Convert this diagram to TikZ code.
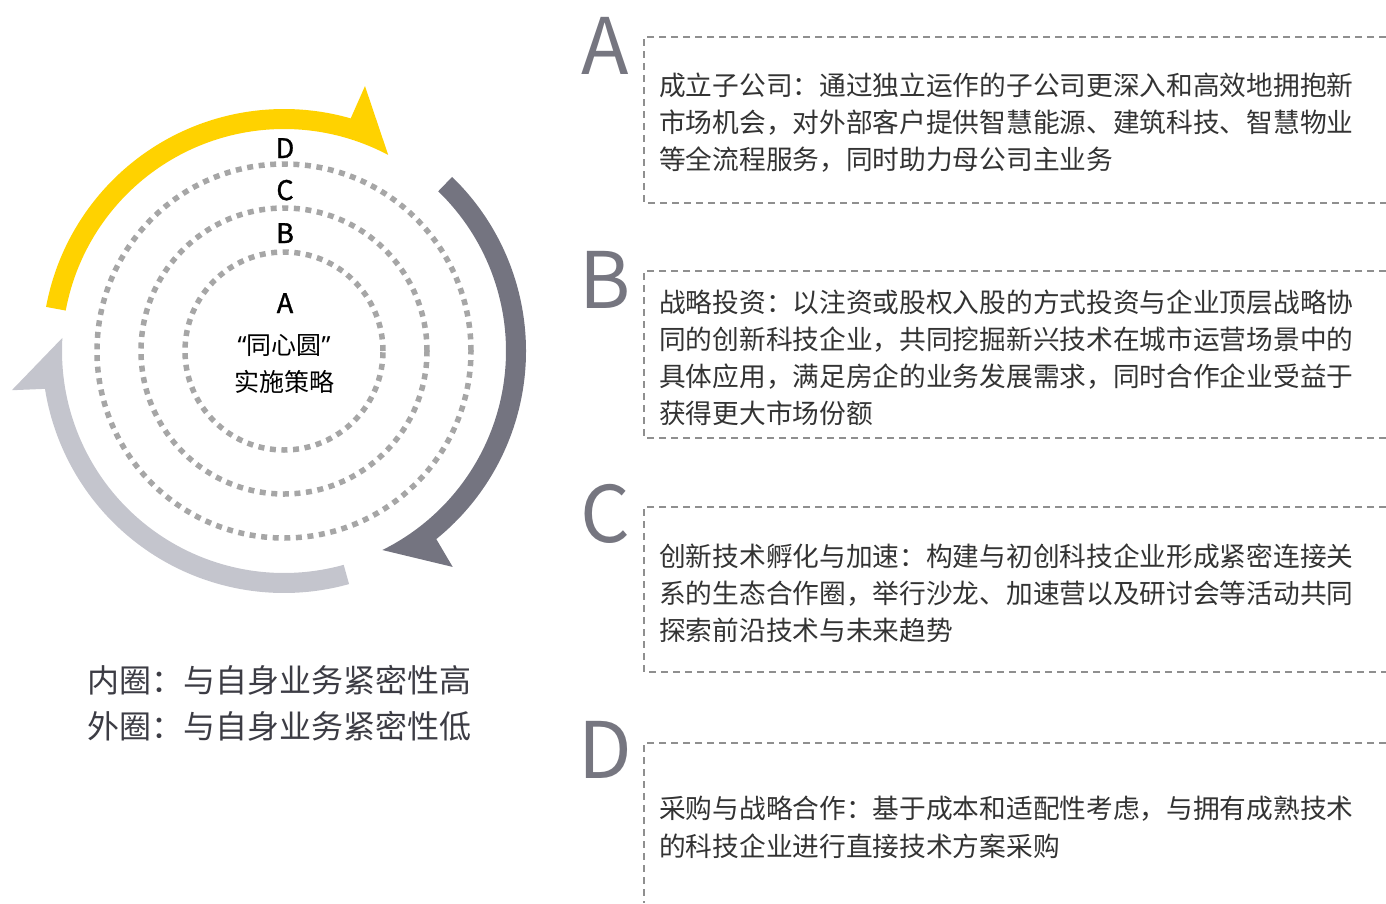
\documentclass[tikz,border=0pt]{standalone}
\usepackage{fontspec}
\setmainfont{Noto Sans CJK SC}
\newfontfamily\qfont{Noto Sans}
\newfontfamily\medfont[FakeBold=1.2]{Noto Sans CJK SC}
\usetikzlibrary{calc}
\definecolor{ylw}{HTML}{FFD200}
\definecolor{dgray}{HTML}{747480}
\definecolor{lgray}{HTML}{C4C5CD}
\definecolor{dotgray}{HTML}{A6A6A6}
\definecolor{boxgray}{HTML}{8F8F8F}
\definecolor{txt}{HTML}{333333}
\definecolor{lettergray}{HTML}{767680}
\definecolor{legendc}{HTML}{3C3C44}
\begin{document}
\begin{tikzpicture}[x=1pt,y=1pt,
  dotring/.style={draw=dotgray, line width=5.5pt, dash pattern=on 6pt off 5.6pt},
  boxline/.style={draw=boxgray, line width=1.4pt, dash pattern=on 7pt off 5pt},
  bodytext/.style={anchor=base west, inner sep=0pt, text=txt, font=\fontsize{26.7}{30}\selectfont},
  bigletter/.style={anchor=base, inner sep=0pt, text=lettergray, font=\fontsize{78}{80}\selectfont},
  ringlabel/.style={anchor=base, inner sep=0pt, text=black, font=\medfont\fontsize{27}{30}\selectfont},
  centertext/.style={anchor=base, inner sep=0pt, text=black, font=\fontsize{25}{28}\selectfont},
  legendtext/.style={anchor=base, inner sep=0pt, text=legendc, font=\fontsize{32}{36}\selectfont}
]
\useasboundingbox (0,0) rectangle (1386,-903);
\coordinate (c) at (284,-351);

% arc arrows
\fill[ylw] ($(c)+(169.5:242)$) arc[start angle=169.5, end angle=74, radius=242]
  -- ($(c)+(73:277)$) -- ($(c)+(62:222)$) arc[start angle=62, end angle=169.5, radius=222] -- cycle;
\fill[dgray] ($(c)+(46:242)$) arc[start angle=46, end angle=-51, radius=242]
  -- ($(c)+(-52:274)$) -- ($(c)+(-63.7:222)$) arc[start angle=-63.7, end angle=46, radius=222] -- cycle;
\fill[lgray] ($(c)+(-74.4:242)$) arc[start angle=-74.4, end angle=-171, radius=242]
  -- ($(c)+(-171.8:275)$) -- ($(c)+(-183.4:222)$) arc[start angle=-183.4, end angle=-74.4, radius=222] -- cycle;

% dotted rings
\draw[dotring] (c) circle[radius=99];
\draw[dotring] (c) circle[radius=143];
\draw[dotring] (c) circle[radius=187];

% ring labels
\node[ringlabel] (ringD) at (285,-158) {D};
\node[ringlabel] (ringC) at (285,-200) {C};
\node[ringlabel] (ringB) at (285,-243) {B};
\node[ringlabel] (ringA) at (285,-313) {A};
\node[centertext] (ctitle) at (284,-354.5) {{\qfont “}同心圆{\qfont ”}};
\node[centertext] (cstrat) at (284,-391.5) {实施策略};

% legend
\node[legendtext] (leg1) at (279,-692) {内圈：与自身业务紧密性高};
\node[legendtext] (leg2) at (279,-738) {外圈：与自身业务紧密性低};

% big letters
\node[bigletter] (bigA) at (605,-74) {A};
\node[bigletter] (bigB) at (605,-308) {B};
\node[bigletter] (bigC) at (605,-542) {C};
\node[bigletter] (bigD) at (605,-778) {D};

% dashed boxes (open at right edge)
\draw[boxline] (1386,-37) -- (644,-37) -- (644,-203) -- (1386,-203);
\draw[boxline] (1386,-271) -- (644,-271) -- (644,-438) -- (1386,-438);
\draw[boxline] (1386,-507) -- (644,-507) -- (644,-672) -- (1386,-672);
\draw[boxline] (1386,-743) -- (644,-743) -- (644,-903);

% box texts
\node[bodytext] (a1) at (659,-95) {成立子公司：通过独立运作的子公司更深入和高效地拥抱新};
\node[bodytext] (a2) at (659,-132) {市场机会，对外部客户提供智慧能源、建筑科技、智慧物业};
\node[bodytext] (a3) at (659,-169) {等全流程服务，同时助力母公司主业务};

\node[bodytext] (b1) at (659,-312) {战略投资：以注资或股权入股的方式投资与企业顶层战略协};
\node[bodytext] (b2) at (659,-349) {同的创新科技企业，共同挖掘新兴技术在城市运营场景中的};
\node[bodytext] (b3) at (659,-386) {具体应用，满足房企的业务发展需求，同时合作企业受益于};
\node[bodytext] (b4) at (659,-423) {获得更大市场份额};

\node[bodytext] (c1) at (659,-566) {创新技术孵化与加速：构建与初创科技企业形成紧密连接关};
\node[bodytext] (c2) at (659,-603) {系的生态合作圈，举行沙龙、加速营以及研讨会等活动共同};
\node[bodytext] (c3) at (659,-640) {探索前沿技术与未来趋势};

\node[bodytext] (d1) at (659,-818) {采购与战略合作：基于成本和适配性考虑，与拥有成熟技术};
\node[bodytext] (d2) at (659,-856) {的科技企业进行直接技术方案采购};
\end{tikzpicture}
\end{document}
